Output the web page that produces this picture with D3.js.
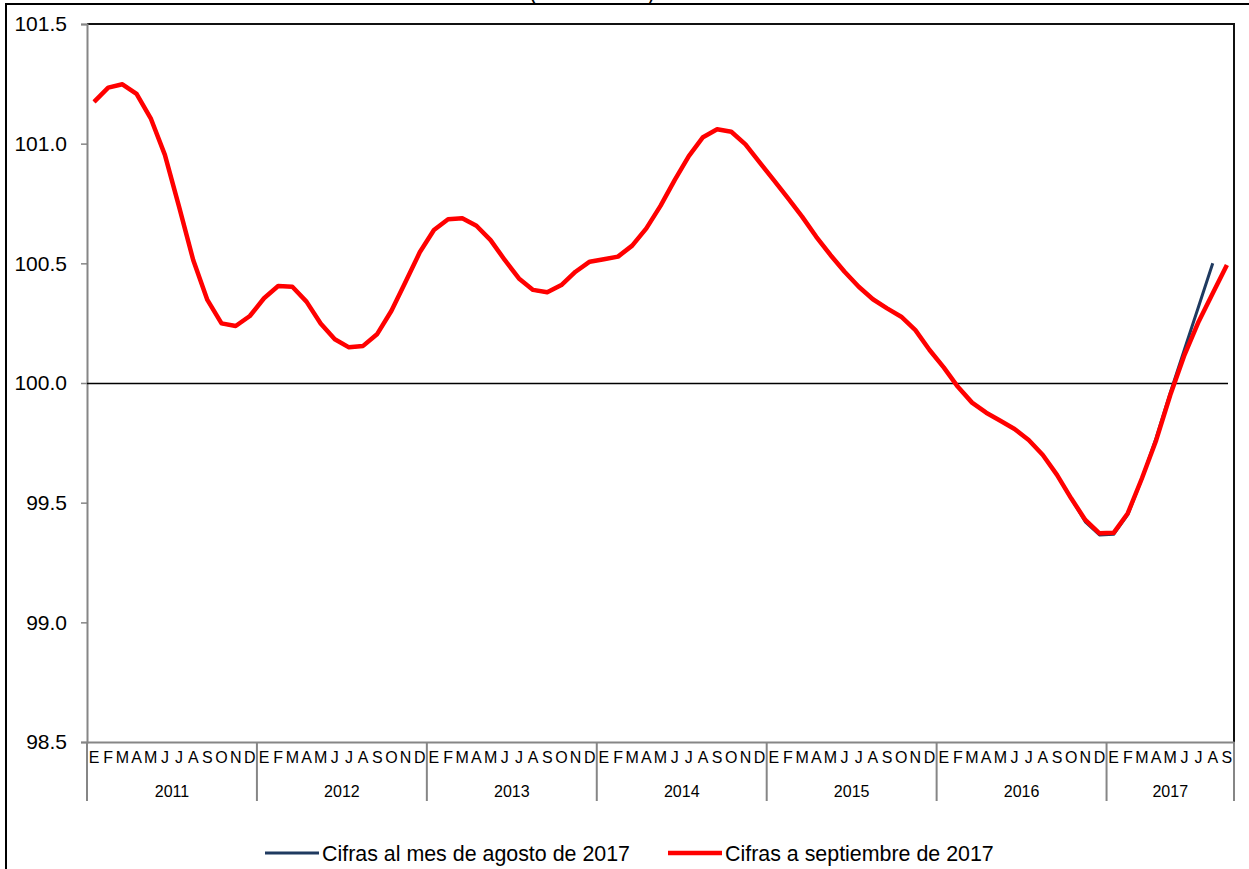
<!DOCTYPE html>
<html>
<head>
<meta charset="utf-8">
<script src="https://cdn.jsdelivr.net/npm/d3@7/dist/d3.min.js"></script>
<style>
  html, body { margin: 0; padding: 0; background: #fff; }
  svg { display: block; font-family: "Liberation Sans", Arial, sans-serif; }
</style>
</head>
<body>
<svg id="chart" width="1249" height="869"></svg>
<script>
// ---- data ----
const years = ["2011", "2012", "2013", "2014", "2015", "2016", "2017"];
const monthLetters = ["E", "F", "M", "A", "M", "J", "J", "A", "S", "O", "N", "D"];
const monthsPerYear = [12, 12, 12, 12, 12, 12, 9];

const seriesSep = [
  101.175, 101.234, 101.248, 101.208, 101.106, 100.953, 100.737, 100.514, 100.347, 100.249, 100.238, 100.280,
  100.354, 100.405, 100.402, 100.340, 100.249, 100.183, 100.149, 100.155, 100.205, 100.302, 100.423, 100.546,
  100.639, 100.684, 100.688, 100.657, 100.597, 100.514, 100.437, 100.389, 100.379, 100.409, 100.465, 100.507,
  100.517, 100.528, 100.574, 100.646, 100.740, 100.848, 100.948, 101.027, 101.060, 101.050, 100.997, 100.922,
  100.848, 100.772, 100.695, 100.611, 100.535, 100.465, 100.402, 100.350, 100.312, 100.277, 100.221, 100.138,
  100.065, 99.984, 99.918, 99.876, 99.842, 99.808, 99.762, 99.699, 99.616, 99.518, 99.428, 99.372,
  99.374, 99.456, 99.602, 99.760, 99.950, 100.117, 100.256, 100.375, 100.493
];
const seriesAug = [
  101.175, 101.234, 101.248, 101.208, 101.106, 100.953, 100.737, 100.514, 100.347, 100.249, 100.238, 100.280,
  100.354, 100.405, 100.402, 100.340, 100.249, 100.183, 100.149, 100.155, 100.205, 100.302, 100.423, 100.546,
  100.639, 100.684, 100.688, 100.657, 100.597, 100.514, 100.437, 100.389, 100.379, 100.409, 100.465, 100.507,
  100.517, 100.528, 100.574, 100.646, 100.740, 100.848, 100.948, 101.027, 101.060, 101.050, 100.997, 100.922,
  100.848, 100.772, 100.695, 100.611, 100.535, 100.465, 100.402, 100.350, 100.312, 100.277, 100.221, 100.138,
  100.065, 99.984, 99.918, 99.876, 99.842, 99.808, 99.762, 99.699, 99.616, 99.518, 99.420, 99.365,
  99.368, 99.450, 99.600, 99.770, 99.960, 100.140, 100.320, 100.500
];
const yTicks = [98.5, 99.0, 99.5, 100.0, 100.5, 101.0, 101.5];
const seriesNames = ["Cifras al mes de agosto de 2017", "Cifras a septiembre de 2017"];
const seriesColors = ["#1F3A60", "#FF0000"];
const titleText = "(Puntos)";

// ---- categories ----
const categories = [];
years.forEach((yr, yi) => {
  for (let m = 0; m < monthsPerYear[yi]; m++) categories.push({ key: yr + "-" + m, month: monthLetters[m], year: yr });
});

const svg = d3.select("#chart");
const pL = 87, pR = 1234, pT = 24, pB = 742;

const x = d3.scaleBand().domain(categories.map(d => d.key)).range([pL, pR]).padding(0);
const y = d3.scaleLinear().domain([98.5, 101.5]).range([pB, pT]);
const cx = i => x(categories[i].key) + x.bandwidth() / 2;

// outer border & (clipped, as in the reference) title
svg.append("text").attr("x", 592).attr("y", 0).attr("text-anchor", "middle")
  .attr("font-size", 22).attr("textLength", 125).attr("lengthAdjust", "spacing")
  .attr("fill", "#000").text(titleText);
svg.append("path").attr("d", "M6,869V4H1249").attr("fill", "none").attr("stroke", "#000").attr("stroke-width", 2);

// plot frame (top, right)
svg.append("path").attr("d", `M${pL},${pT}H${pR}V${pB}`).attr("fill", "none")
  .attr("stroke", "#111").attr("stroke-width", 2);

// y axis
const yAxis = svg.append("g").attr("transform", `translate(${pL},0)`)
  .call(d3.axisLeft(y).tickValues(yTicks).tickFormat(d3.format(".1f")).tickSize(6).tickPadding(14));
yAxis.select(".domain").attr("stroke", "#868686").attr("stroke-width", 2);
yAxis.selectAll(".tick line").attr("stroke", "#868686").attr("stroke-width", 1.5);
yAxis.selectAll(".tick text").attr("font-size", 21).attr("fill", "#000")
  .attr("font-family", "'Liberation Sans', Arial, sans-serif");

// x axis (months)
const xAxis = svg.append("g").attr("transform", `translate(0,${pB})`)
  .call(d3.axisBottom(x).tickSize(0).tickPadding(10).tickFormat(k => categories.find(c => c.key === k).month));
xAxis.select(".domain").attr("stroke", "#868686").attr("stroke-width", 2);
xAxis.selectAll(".tick text").attr("font-size", 16).attr("fill", "#000")
  .attr("font-family", "'Liberation Sans', Arial, sans-serif");

// year separators and labels
let startIdx = 0;
const bounds = [];
years.forEach((yr, yi) => {
  const s = x(categories[startIdx].key);
  const last = categories[startIdx + monthsPerYear[yi] - 1].key;
  const e = x(last) + x.bandwidth();
  bounds.push({ yr, s, e });
  startIdx += monthsPerYear[yi];
});
const sepX = [bounds[0].s].concat(bounds.map(b => b.e));
svg.append("g").selectAll("line").data(sepX).join("line")
  .attr("x1", d => d).attr("x2", d => d).attr("y1", pB).attr("y2", 801)
  .attr("stroke", "#868686").attr("stroke-width", 2);
svg.append("g").selectAll("text").data(bounds).join("text")
  .attr("x", d => (d.s + d.e) / 2).attr("y", 797).attr("text-anchor", "middle")
  .attr("font-size", 16).attr("fill", "#000").text(d => d.yr);

// reference line at 100
svg.append("line").attr("x1", pL).attr("x2", 1228).attr("y1", Math.round(y(100)) + 0.5).attr("y2", Math.round(y(100)) + 0.5)
  .attr("stroke", "#000").attr("stroke-width", 1.3);

// series
const line = d3.line().x((d, i) => cx(i)).y(d => y(d)).curve(d3.curveLinear);
svg.append("path").datum(seriesAug).attr("d", line).attr("fill", "none")
  .attr("stroke", seriesColors[0]).attr("stroke-width", 3).attr("stroke-linejoin", "round");
svg.append("path").datum(seriesSep).attr("d", line).attr("fill", "none")
  .attr("stroke", seriesColors[1]).attr("stroke-width", 4.5).attr("stroke-linejoin", "round");

// legend
const legend = [
  { name: seriesNames[0], color: seriesColors[0], x0: 265, w: 3 },
  { name: seriesNames[1], color: seriesColors[1], x0: 668, w: 4.5 }
];
const lg = svg.append("g").selectAll("g").data(legend).join("g");
lg.append("line").attr("x1", d => d.x0).attr("x2", d => d.x0 + 54).attr("y1", 853).attr("y2", 853)
  .attr("stroke", d => d.color).attr("stroke-width", d => d.w);
lg.append("text").attr("x", d => d.x0 + 57).attr("y", 861).attr("font-size", 21.4).attr("fill", "#000")
  .text(d => d.name);
</script>
</body>
</html>
